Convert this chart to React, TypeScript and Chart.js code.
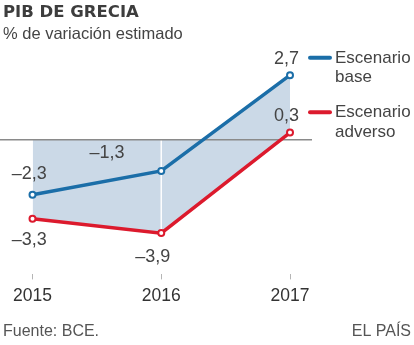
import React, { useEffect, useRef } from 'react';
import { Chart, registerables } from 'chart.js';

Chart.register(...registerables);

const YEARS = ['2015', '2016', '2017'];
const BASE = [-2.3, -1.3, 2.7];
const ADVERSE = [-3.3, -3.9, 0.3];
const SERIES_NAMES = [
  ['Escenario', 'base'],
  ['Escenario', 'adverso'],
];
const TITLE = 'PIB DE GRECIA';
const SUBTITLE = '% de variación estimado';
const SOURCE = 'Fuente: BCE.';
const BRAND = 'EL PAÍS';

// label placement relative to each point: [dx, baseline dy]
const LABEL_OFFSETS = [
  [[-3.3, -16], [-54.3, -13.4], [-3.5, -11.6]],
  [[-3.3, 26.7], [-8.5, 28.4], [-3.5, -11.7]],
];
// legend rows: baseline of first line
const LEGEND_BASELINES = [62.7, 117.3];

const BLUE = '#1b6ea8';
const RED = '#dc1a2d';
const SHADE = '#cbd9e7';
const TEXT = '#444444';
const FONT = '"Liberation Sans", Arial, sans-serif';

const fmt = (v: number) => (v < 0 ? '\u2013' : '') + Math.abs(v).toFixed(1).replace('.', ',');

const decor = {
  id: 'decor',
  beforeDatasetsDraw(chart: any) {
    const ctx = chart.ctx;
    const xs = chart.scales.x;
    const ys = chart.scales.y;
    const y0 = ys.getPixelForValue(0);
    const adv = chart.getDatasetMeta(1);
    ctx.save();
    // white divider inside the shaded area
    ctx.strokeStyle = 'rgba(255,255,255,0.95)';
    ctx.lineWidth = 1.5;
    for (let i = 1; i < YEARS.length - 1; i++) {
      const xi = xs.getPixelForValue(i);
      ctx.beginPath();
      ctx.moveTo(xi, y0);
      ctx.lineTo(xi, adv.data[i].y);
      ctx.stroke();
    }
    // zero line
    ctx.strokeStyle = '#8a8a8a';
    ctx.lineWidth = 1.5;
    ctx.beginPath();
    ctx.moveTo(0, y0);
    ctx.lineTo(xs.right + 22, y0);
    ctx.stroke();
    ctx.restore();
  },
  afterDatasetsDraw(chart: any) {
    const ctx = chart.ctx;
    const xs = chart.scales.x;
    ctx.save();
    // value labels
    ctx.fillStyle = TEXT;
    ctx.font = `18px ${FONT}`;
    ctx.textAlign = 'center';
    ctx.textBaseline = 'alphabetic';
    chart.data.datasets.forEach((ds: any, di: number) => {
      const meta = chart.getDatasetMeta(di);
      meta.data.forEach((pt: any, i: number) => {
        const [dx, dy] = LABEL_OFFSETS[di][i];
        ctx.fillText(fmt(ds.data[i]), pt.x + dx, pt.y + dy);
      });
    });
    // legend
    const lx = xs.right + 18;
    chart.data.datasets.forEach((ds: any, di: number) => {
      const b = LEGEND_BASELINES[di];
      ctx.strokeStyle = ds.borderColor;
      ctx.lineWidth = 4;
      ctx.lineCap = 'round';
      ctx.beginPath();
      ctx.moveTo(lx + 2, b - 5);
      ctx.lineTo(lx + 22, b - 5);
      ctx.stroke();
      ctx.fillStyle = TEXT;
      ctx.font = `17px ${FONT}`;
      ctx.textAlign = 'left';
      SERIES_NAMES[di].forEach((t, k) => ctx.fillText(t, lx + 27, b + k * 19.5));
    });
    // header
    ctx.textAlign = 'left';
    ctx.fillStyle = '#3d3d3d';
    ctx.font = `bold 16.5px "DejaVu Sans", ${FONT}`;
    ctx.fillText(TITLE, 3, 16.7);
    ctx.fillStyle = TEXT;
    ctx.font = `16.5px ${FONT}`;
    ctx.fillText(SUBTITLE, 3, 39.3);
    // footer
    ctx.font = `16px ${FONT}`;
    ctx.fillStyle = '#555555';
    ctx.fillText(SOURCE, 3, 336);
    ctx.textAlign = 'right';
    ctx.fillText(BRAND, 411, 336);
    ctx.restore();
  },
};

export default function App() {
  const ref = useRef<HTMLCanvasElement | null>(null);
  useEffect(() => {
    if (!ref.current) return;
    const pointStyle = (c: string) => ({
      borderColor: c,
      borderWidth: 3.5,
      pointRadius: 3,
      pointBorderWidth: 2,
      pointBackgroundColor: '#ffffff',
      pointBorderColor: c,
      tension: 0,
      clip: false as any,
    });
    const chart = new Chart(ref.current, {
      type: 'line',
      data: {
        labels: YEARS,
        datasets: [
          {
            label: SERIES_NAMES[0].join(' '),
            data: BASE,
            ...pointStyle(BLUE),
            backgroundColor: SHADE,
            fill: { target: 'origin', above: 'rgba(0,0,0,0)', below: SHADE },
          } as any,
          {
            label: SERIES_NAMES[1].join(' '),
            data: ADVERSE,
            ...pointStyle(RED),
            backgroundColor: SHADE,
            fill: { target: 0, above: SHADE, below: SHADE },
          } as any,
        ],
      },
      options: {
        responsive: false,
        animation: false,
        layout: { padding: { left: 32.5, right: 124, top: 74, bottom: 31.6 } },
        plugins: {
          legend: { display: false },
          tooltip: { enabled: false },
          filler: { drawTime: 'beforeDatasetsDraw', propagate: false },
        } as any,
        scales: {
          x: {
            offset: false,
            grid: {
              drawOnChartArea: false,
              drawTicks: true,
              tickLength: 5,
              tickColor: '#b5b5b5',
              tickWidth: 1,
            },
            border: { display: false },
            ticks: {
              color: '#333333',
              font: { family: FONT, size: 17.5 },
              padding: 6.5,
              maxRotation: 0,
              autoSkip: false,
            },
          },
          y: { display: false, min: -5.625, max: 2.75 },
        },
      },
      plugins: [decor],
    });
    return () => chart.destroy();
  }, []);
  return (
    <div style={{ position: 'fixed', left: 0, top: 0, width: 414, height: 345, background: '#fff' }}>
      <canvas ref={ref} width={414} height={345} style={{ display: 'block' }} />
    </div>
  );
}
